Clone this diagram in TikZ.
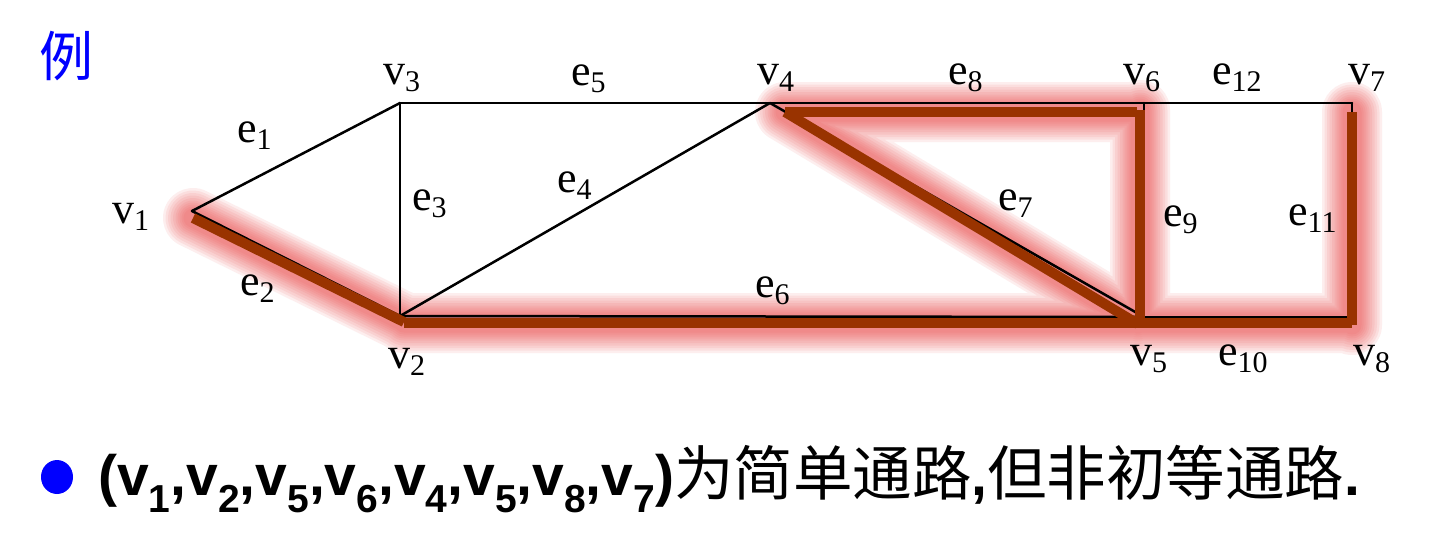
\documentclass[tikz,border=0pt]{standalone}
\usepackage{fontspec}
\setmainfont{Liberation Serif}
\newfontfamily\cjk{Noto Sans CJK SC}
\newfontfamily\arial{Liberation Sans}
\definecolor{pathbrown}{RGB}{153,51,0}
\definecolor{glowred}{RGB}{235,70,70}
\newcommand\lab[2]{#1{\fontsize{30}{30}\selectfont\raisebox{-7pt}{#2}}}
\newcommand\vsub[1]{v{\fontsize{39}{39}\selectfont\raisebox{-17pt}{#1}}}
\tikzset{
  lbl/.style={anchor=base west,inner sep=0pt,font=\fontsize{44}{44}\selectfont},
  edge/.style={draw=black,line width=2.5pt,line cap=round},
  hot/.style={draw=pathbrown,line width=10pt,line cap=butt},
  glow/.style={draw=glowred,line width=#1,opacity=0.09,line cap=round,line join=round},
}
\begin{document}
\begin{tikzpicture}[x=1pt,y=-1pt]
\fill[white] (0,0) rectangle (1434,547);
\useasboundingbox (0,0) rectangle (1434,547);
% vertices
\coordinate (v1) at (192,211);
\coordinate (v2) at (400,316);
\coordinate (v3) at (400,103);
\coordinate (v4) at (770,103);
\coordinate (v5) at (1144,317);
\coordinate (v6) at (1144,103);
\coordinate (v7) at (1352,103);
\coordinate (v8) at (1352,317);
% highlighted path points
\coordinate (a1) at (193,218);
\coordinate (a2) at (404,322);
\coordinate (b2) at (404,323);
\coordinate (b5) at (1138,323);
\coordinate (c4) at (785,112);
\coordinate (c5) at (1138,324);
\coordinate (d6) at (1137,112);
\coordinate (f6) at (1140,110);
\coordinate (f5) at (1140,323);
\coordinate (g8) at (1352,323);
\coordinate (h8) at (1352,325);
\coordinate (h7) at (1352,112);
% glow
\foreach \w in {60pt,55pt,50pt,45pt,40pt,35pt,31pt,27pt,23pt,19pt}{
  \draw[glow=\w] (a1)--(a2) (b2)--(b5) (c4)--(c5) (c4)--(d6) (f6)--(f5) (b5)--(g8) (h8)--(h7);
}
% thin edges
\draw[edge] (v1)--(v3);
\draw[edge] (v1)--(v2);
\draw[edge] (v2)--(v3);
\draw[edge] (v2)--(v4);
\draw[edge] (v3)--(v4);
\draw[edge] (v2)--(v5);
\draw[edge] (v4)--(v5);
\draw[edge] (v4)--(v6);
\draw[edge] (v5)--(v6);
\draw[edge] (v5)--(v8);
\draw[edge] (v7)--(v8);
\draw[edge] (v6)--(v7);
% highlighted path
\draw[hot] (a1)--(a2);
\draw[hot] (b2)--(b5);
\draw[hot] (c4)--(c5);
\draw[hot] (c4)--(d6);
\draw[hot] (f6)--(f5);
\draw[hot] (b5)--(g8);
\draw[hot] (h8)--(h7);
% labels
\node[lbl] (lv1) at (112,223) {\lab{v}{1}};
\node[lbl] (lv2) at (388,368) {\lab{v}{2}};
\node[lbl] (lv3) at (383,84) {\lab{v}{3}};
\node[lbl] (lv4) at (757,84) {\lab{v}{4}};
\node[lbl] (lv5) at (1130,365) {\lab{v}{5}};
\node[lbl] (lv6) at (1123,84) {\lab{v}{6}};
\node[lbl] (lv7) at (1348,84) {\lab{v}{7}};
\node[lbl] (lv8) at (1353,365) {\lab{v}{8}};
\node[lbl] (le1) at (237,142) {\lab{e}{1}};
\node[lbl] (le2) at (240,295) {\lab{e}{2}};
\node[lbl] (le3) at (412,210) {\lab{e}{3}};
\node[lbl] (le4) at (557,192) {\lab{e}{4}};
\node[lbl] (le5) at (571,85) {\lab{e}{5}};
\node[lbl] (le6) at (755,297) {\lab{e}{6}};
\node[lbl] (le7) at (998,210) {\lab{e}{7}};
\node[lbl] (le8) at (948,84) {\lab{e}{8}};
\node[lbl] (le9) at (1163,226) {\lab{e}{9}};
\node[lbl] (le10) at (1218,365) {\lab{e}{10}};
\node[lbl] (le11) at (1288,225) {\lab{e}{11}};
\node[lbl] (le12) at (1212,84) {\lab{e}{12}};
% title
\node[inner sep=0pt,text=blue,font=\cjk\fontsize{54}{54}\selectfont] (li) at (66,56) {例};
% bullet line
\fill[blue] (57,477) ellipse[x radius=16,y radius=17];
\node[anchor=base west,inner sep=0pt] (txt) at (98,495)
  {\arial\bfseries\fontsize{57}{57}\selectfont (\vsub{1},\vsub{2},\vsub{5},\vsub{6},\vsub{4},\vsub{5},\vsub{8},\vsub{7}){\cjk\mdseries\fontsize{59.5}{59.5}\selectfont 为简单通路},{\cjk\mdseries\fontsize{59.5}{59.5}\selectfont 但非初等通路}.};
\end{tikzpicture}
\end{document}
